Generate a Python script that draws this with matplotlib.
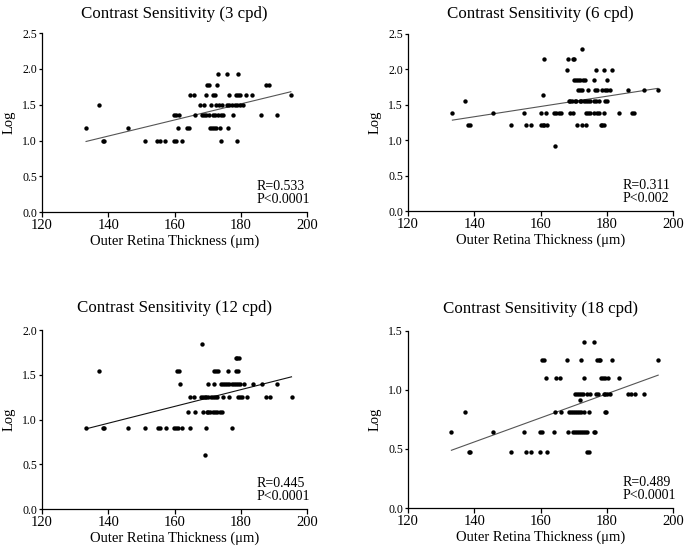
import numpy as np
import matplotlib
matplotlib.use('Agg')
import matplotlib.pyplot as plt

plt.rcParams['font.family'] = ['Liberation Serif', 'DejaVu Serif']

# ---- data (x = outer retina thickness, y = log CS) ----
# 3 cpd
x3 = [173.0, 175.8, 179.1,
      169.8, 170.3, 172.8, 187.5, 188.5,
      164.6, 165.8, 169.5, 171.7, 172.2, 176.5, 178.5, 179.2, 179.9, 181.5, 183.4, 195.1,
      137.3, 167.8, 169.0, 171.1, 172.5, 173.3, 174.2, 175.8, 176.5, 177.3, 178.1, 179.0, 179.8, 180.7,
      159.8, 160.5, 161.4, 166.2, 168.2, 168.8, 169.5, 170.3, 171.5, 172.3, 173.1, 173.9, 174.5, 177.7, 186.0, 190.8,
      133.3, 145.9, 161.1, 163.9, 164.4, 170.6, 171.3, 171.8, 172.4, 173.7, 176.1,
      138.3, 138.8, 151.2, 154.8, 155.5, 157.1, 159.8, 160.5, 162.2, 173.9, 179.0]
y3 = [1.93] * 3 + [1.78] * 5 + [1.63] * 12 + [1.49] * 14 + [1.35] * 16 + [1.17] * 11 + [1.0] * 11

# 6 cpd
x6 = [172.4,
      161.1, 168.2, 169.7, 170.2,
      167.9, 176.6, 179.2, 181.7,
      170.1, 170.7, 171.2, 172.0, 172.7, 173.4, 176.0, 180.2,
      171.3, 171.8, 172.4, 174.4, 176.5, 177.1, 178.4, 179.5, 180.1, 181.0, 186.4, 191.1, 195.4,
      160.6,
      137.1, 168.5, 169.0, 169.6, 170.3, 170.8, 171.8, 172.3, 173.0, 173.6, 174.3, 174.9, 176.1, 176.7, 177.6, 179.5, 180.0,
      133.4, 145.8, 155.1, 160.0, 161.6, 164.1, 164.8, 165.5, 166.3, 169.0, 169.8, 173.8, 174.3, 174.8, 176.0, 177.0, 177.5, 179.3, 183.6, 187.5, 188.1,
      138.1, 138.6, 151.1, 155.6, 157.2, 160.0, 160.6, 161.0, 162.1, 170.9, 172.5, 173.8, 178.1, 178.6, 179.3,
      164.4]
y6 = ([2.29] + [2.14] * 4 + [1.99] * 4 + [1.84] * 8 + [1.70] * 13 + [1.63] + [1.55] * 17
      + [1.38] * 21 + [1.21] * 15 + [0.91])

# 12 cpd
x12 = [168.3,
       178.5, 179.0, 179.6,
       137.3, 160.6, 161.2, 171.9, 172.5, 173.2, 176.0, 178.5, 179.3,
       161.6, 170.0, 171.8, 173.9, 174.5, 175.2, 175.8, 176.5, 177.2, 177.8, 178.4, 179.1, 179.7, 181.1, 183.6, 186.3, 191.0,
       164.8, 166.0, 168.0, 168.5, 169.1, 169.6, 170.2, 170.9, 171.5, 172.2, 172.9, 174.6, 176.5, 179.3, 179.9, 180.5, 181.8, 187.6, 188.7, 195.3,
       164.1, 166.2, 168.6, 169.7, 170.2, 170.8, 171.5, 172.2, 172.9, 173.6, 174.3,
       133.3, 138.3, 138.8, 145.9, 151.2, 154.9, 155.5, 157.3, 159.8, 160.3, 160.9, 162.2, 164.6, 169.6, 177.3,
       169.1]
y12 = ([1.84] + [1.69] * 3 + [1.54] * 9 + [1.40] * 17 + [1.25] * 20 + [1.08] * 11
       + [0.91] * 15 + [0.61])

# 18 cpd
x18 = [173.1, 176.0,
       160.4, 161.0, 167.9, 172.1, 176.9, 177.5, 178.0, 181.7, 195.5,
       161.5, 164.8, 165.8, 173.0, 178.1, 178.9, 179.5, 180.3, 183.7,
       170.4, 171.0, 171.6, 172.2, 172.8, 174.0, 174.8, 176.6, 177.2, 179.1, 179.6, 180.1, 180.9, 186.3, 187.4, 188.6, 191.1,
       172.0,
       137.1, 164.4, 166.3, 168.5, 169.1, 169.7, 170.3, 170.9, 171.6, 172.3, 173.0, 174.5, 179.4, 179.9,
       133.1, 145.8, 154.9, 159.9, 160.5, 164.2, 168.3, 169.9, 170.4, 171.0, 171.6, 172.3, 172.9, 173.5, 174.1, 176.0, 176.5,
       138.3, 138.8, 151.1, 155.6, 157.1, 159.9, 162.1, 173.9, 174.5]
y18 = ([1.40] * 2 + [1.25] * 9 + [1.10] * 9 + [0.96] * 17 + [0.91] + [0.81] * 14
       + [0.64] * 17 + [0.47] * 9)

titles = ['Contrast Sensitivity (3 cpd)', 'Contrast Sensitivity (6 cpd)',
          'Contrast Sensitivity (12 cpd)', 'Contrast Sensitivity (18 cpd)']
stats = ['R=0.533\nP<0.0001', 'R=0.311\nP<0.002', 'R=0.445\nP<0.0001', 'R=0.489\nP<0.0001']
ymaxs = [2.5, 2.5, 2.0, 1.5]
xs = [x3, x6, x12, x18]
ys = [y3, y6, y12, y18]
line_colors = ['#555555', '#555555', '#111111', '#555555']

fig = plt.figure(figsize=(6.85, 5.51), dpi=100)
positions = [[0.0613, 0.615, 0.387, 0.325],
             [0.5956, 0.617, 0.387, 0.322],
             [0.0613, 0.076, 0.387, 0.325],
             [0.5956, 0.078, 0.387, 0.322]]
title_pads = [11, 11, 13, 13]

for i in range(4):
    ax = fig.add_axes(positions[i])
    x = np.array(xs[i])
    y = np.array(ys[i])
    ax.scatter(x, y, s=10, color='black', zorder=3, linewidths=0)
    k, b = np.polyfit(x, y, 1)
    xl = np.array([x.min(), x.max()])
    ax.plot(xl, k * xl + b, color=line_colors[i], lw=0.8)

    ax.set_xlim(120, 200)
    ax.set_ylim(0, ymaxs[i])
    ax.set_xticks([120, 140, 160, 180, 200])
    ax.set_yticks(np.arange(0, ymaxs[i] + 0.01, 0.5))
    ax.yaxis.set_major_formatter(matplotlib.ticker.FormatStrFormatter('%.1f'))
    for s in ['top', 'right']:
        ax.spines[s].set_visible(False)
    for s in ['left', 'bottom']:
        ax.spines[s].set_linewidth(0.9)
    ax.tick_params(axis='x', labelsize=10.5, length=3.5, width=0.9, pad=1.5)
    ax.tick_params(axis='y', labelsize=8.5, length=2.5, width=0.9, pad=1)
    ax.set_title(titles[i], fontsize=12.2, pad=title_pads[i])
    ax.set_xlabel('Outer Retina Thickness (μm)', fontsize=10.5, labelpad=2)
    ax.set_ylabel('Log', fontsize=10.5, labelpad=5)
    ax.text(0.81, 0.033, stats[i], transform=ax.transAxes, fontsize=10,
            ha='left', va='bottom', linespacing=1.05)

fig.savefig('out.png', dpi=100)
